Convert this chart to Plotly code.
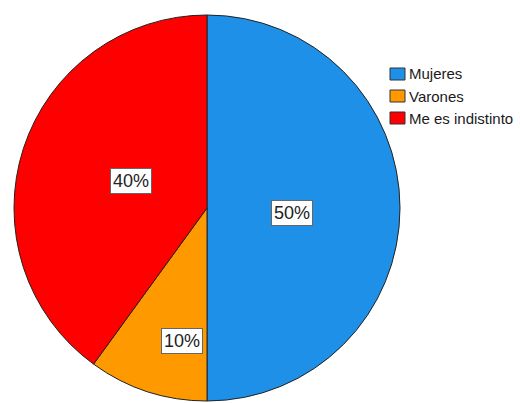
import math
import plotly.graph_objects as go

categories = ["Mujeres", "Varones", "Me es indistinto"]
shares = [50, 10, 40]
colors = ["#1E90E8", "#FF9900", "#FF0000"]
# radial placement of each percentage box, as a fraction of the radius
label_radius = [0.44, 0.77, 0.53]

W, H = 520, 403
dom_x = [12 / W, 402 / W]
dom_y = [2 / H, 388 / H]

fig = go.Figure(go.Pie(
    labels=categories,
    values=shares,
    sort=False,
    direction="clockwise",
    rotation=0,
    marker=dict(colors=colors, line=dict(color="#222222", width=1)),
    textinfo="none",
    hoverinfo="label+percent",
    domain=dict(x=dom_x, y=dom_y),
    showlegend=False,
))

# percentage boxes placed at each slice's mid-angle
cx = (dom_x[0] + dom_x[1]) / 2 * W
cy = (1 - (dom_y[0] + dom_y[1]) / 2) * H
R = min((dom_x[1] - dom_x[0]) * W, (dom_y[1] - dom_y[0]) * H) / 2
total = sum(shares)
cum = 0
for v, f in zip(shares, label_radius):
    mid = (cum + v / 2) / total * 2 * math.pi
    cum += v
    px = cx + R * f * math.sin(mid)
    py = cy - R * f * math.cos(mid) + 5
    fig.add_annotation(
        x=px / W, y=1 - py / H, xref="paper", yref="paper",
        text=f"{v}%", showarrow=False,
        font=dict(family="Arial", size=18, color="#222222"),
        bgcolor="white", bordercolor="#666666", borderwidth=1, borderpad=2,
    )

# legend drawn as swatches and labels
leg_x, leg_y0, leg_step = 390, 74, 22
for i, (name, col) in enumerate(zip(categories, colors)):
    yc = leg_y0 + i * leg_step
    fig.add_shape(
        type="rect", xref="paper", yref="paper",
        x0=leg_x / W, x1=(leg_x + 15) / W,
        y0=1 - (yc - 6) / H, y1=1 - (yc + 6) / H,
        fillcolor=col, line=dict(color="#333333", width=1),
    )
    fig.add_annotation(
        x=(leg_x + 17) / W, y=1 - yc / H, xref="paper", yref="paper",
        xanchor="left", yanchor="middle", text=name, showarrow=False,
        font=dict(family="Arial", size=15, color="#1a1a1a"),
    )

fig.update_layout(
    width=W, height=H,
    margin=dict(l=0, r=0, t=0, b=0),
    paper_bgcolor="white",
)

fig.write_html("out.html")
